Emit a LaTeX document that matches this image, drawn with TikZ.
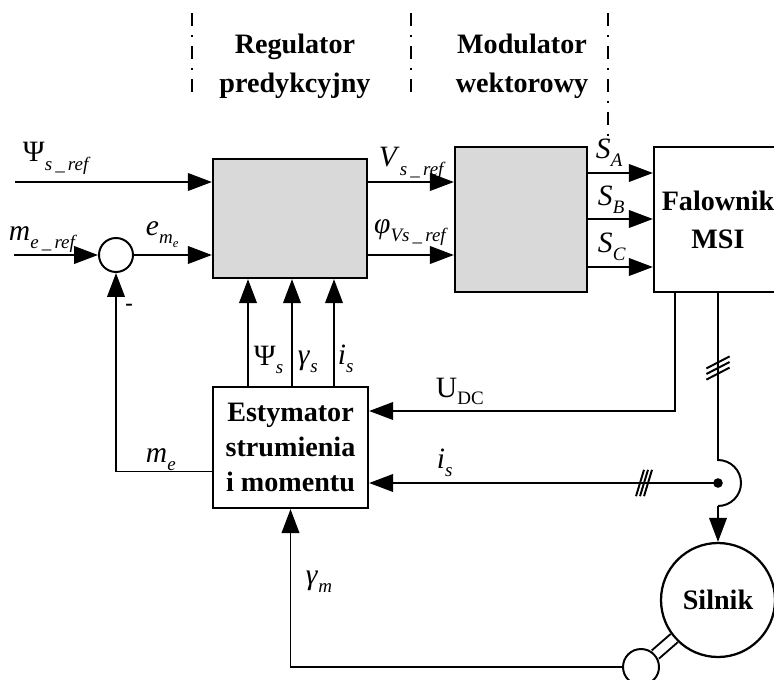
\documentclass[tikz,border=0pt]{standalone}
\usepackage{fontspec}
\setmainfont{Liberation Serif}
\usetikzlibrary{arrows.meta, calc}
\newcommand{\vsub}[2]{#1\raisebox{-6pt}{\fontsize{13.5}{13.5}\selectfont #2}}

\begin{document}
\begin{tikzpicture}[>={Triangle[length=0.6cm,width=0.44cm]}, line width=1.4pt,
  blk/.style={draw, line width=1.6pt, align=center, inner sep=0pt,
              font=\fontsize{20}{25}\selectfont\bfseries},
  shd/.style={blk, fill=black!15},
  ttl/.style={align=center, inner sep=0pt, font=\fontsize{20}{28}\selectfont\bfseries},
  sym/.style={inner sep=0pt, anchor=base west, font=\fontsize{21}{21}\selectfont},
  sep/.style={line width=0.9pt, dash pattern=on 0.33cm off 0.22cm on 0.05cm off 0.22cm}]

  \useasboundingbox (0,0) rectangle (19.35,-16.975);
  \clip (0,0) rectangle (19.35,-16.975);

  % column separators and titles
  \foreach \x/\y in {4.8/-2.5, 10.275/-2.5, 15.2/-3.4}
    \draw[sep] (\x,-0.33) -- (\x,\y);
  \node[ttl] (tReg) at (7.375,-1.65) {Regulator\\predykcyjny};
  \node[ttl] (tMod) at (13.05,-1.65) {Modulator\\wektorowy};

  % blocks
  \node[shd, minimum width=3.85cm, minimum height=2.975cm] (reg) at (7.25,-5.4625) {};
  \node[shd, minimum width=3.3cm, minimum height=3.625cm] (mod) at (13.025,-5.4875) {};
  \node[blk, minimum width=3.2cm, minimum height=3.625cm, font=\fontsize{20}{27}\selectfont\bfseries]
    (fal) at (17.95,-5.4875) {Falownik\\MSI};
  \node[blk, minimum width=3.875cm, minimum height=3.025cm] (est) at (7.2625,-11.1875)
    {Estymator\\strumienia\\i momentu};
  \node[draw, circle, minimum size=0.85cm, inner sep=0pt] (sum) at (2.9,-6.375) {};
  \node[blk, circle, minimum size=2.85cm] (mot) at (17.95,-15.0) {Silnik};
  \node[draw, circle, minimum size=0.9cm, inner sep=0pt] (enc) at (16.025,-16.675) {};
  \draw[double, double distance=0.22cm] (enc) -- (mot);

  \coordinate (psiin) at (0.375,-4.55);
  \coordinate (mein)  at (0.35,-6.375);
  \coordinate (jn)    at (17.95,-12.075);
  \coordinate (udc)   at (16.875,-10.275);
  \coordinate (tk1)   at (17.95,-9.2);
  \coordinate (tk2)   at (16.1,-12.075);

  % signals
  \draw[->] (psiin) -- (psiin -| reg.west);
  \draw[->] (mein) -- (sum.west);
  \draw[->] (sum.east) -- (sum.east -| reg.west);
  \draw[->] (reg.east |- psiin) -- (mod.west |- psiin);
  \draw[->] (reg.east |- sum) -- (mod.west |- sum);
  \foreach \y in {-4.325,-5.475,-6.675}
    \draw[->] (mod.east |- 0,\y) -- (fal.west |- 0,\y);
  \foreach \x in {6.2,7.3,8.35}
    \draw[->] (est.north -| \x,0) -- (reg.south -| \x,0);
  \draw[->] ([yshift=-0.6cm]est.west) -| (sum.south);
  \draw[->] (fal.south -| udc) |- (udc -| est.east);
  \draw (fal.south) -- ([yshift=0.575cm]jn) arc[start angle=90, end angle=-90, radius=0.575cm];
  \draw[->] ([yshift=-0.575cm]jn) -- (mot.north);
  \fill (jn) circle (0.12cm);
  \draw[->] (jn) -- (jn -| est.east);
  \draw[->] (enc.west) -| (est.south);

  % phase marks
  \foreach \d in {-0.14,0,0.14}
    \draw ([yshift=\d cm]tk1) ++(-0.29,-0.15) -- ++(0.58,0.3);
  \foreach \d in {-0.1,0,0.1}
    \draw ([xshift=\d cm]tk2) ++(-0.1,-0.33) -- ++(0.2,0.66);

  % labels
  \node[sym] (lPsiRef) at (0.55,-4.04)  {\vsub{Ψ}{\textit{s\,\_\,ref}}};
  \node[sym] (lMeRef)  at (0.2,-6.0)    {\vsub{\textit{m}}{\textit{e\,\_\,ref}}};
  \node[sym] (lEm)     at (3.625,-5.875)
    {\vsub{\textit{e}}{\textit{m}\raisebox{-3pt}{\fontsize{9}{9}\selectfont\textit{e}}}};
  \node[sym] (lVs)     at (9.45,-4.17)  {\vsub{\textit{V}}{\textit{s\,\_\,ref}}};
  \node[sym] (lPhi)    at (9.33,-5.83)  {\vsub{\textit{φ}}{\textit{Vs\,\_\,ref}}};
  \node[sym] (lSA)     at (14.875,-3.95) {\vsub{\textit{S}}{\textit{A}}};
  \node[sym] (lSB)     at (14.925,-5.125) {\vsub{\textit{S}}{\textit{B}}};
  \node[sym] (lSC)     at (14.925,-6.3)  {\vsub{\textit{S}}{\textit{C}}};
  \node[sym] (lPsi)    at (6.325,-9.125) {\vsub{Ψ}{\textit{s}}};
  \node[sym] (lGam)    at (7.425,-9.1)   {\vsub{\textit{γ}}{\textit{s}}};
  \node[sym] (lIs)     at (8.425,-9.1)   {\vsub{\textit{i}}{\textit{s}}};
  \node[sym] (lUdc)    at (10.875,-9.925) {U\raisebox{-5pt}{\fontsize{13.5}{13.5}\selectfont DC}};
  \node[sym] (lIs2)    at (10.9,-11.7)   {\vsub{\textit{i}}{\textit{s}}};
  \node[sym] (lMe)     at (3.625,-11.55) {\vsub{\textit{m}}{\textit{e}}};
  \node[sym] (lGamM)   at (7.625,-14.6)  {\vsub{\textit{γ}}{\textit{m}}};
  \node[font=\fontsize{16}{16}\selectfont\bfseries, inner sep=0pt] (lMinus) at (3.225,-7.675) {-};

\end{tikzpicture}
\end{document}
